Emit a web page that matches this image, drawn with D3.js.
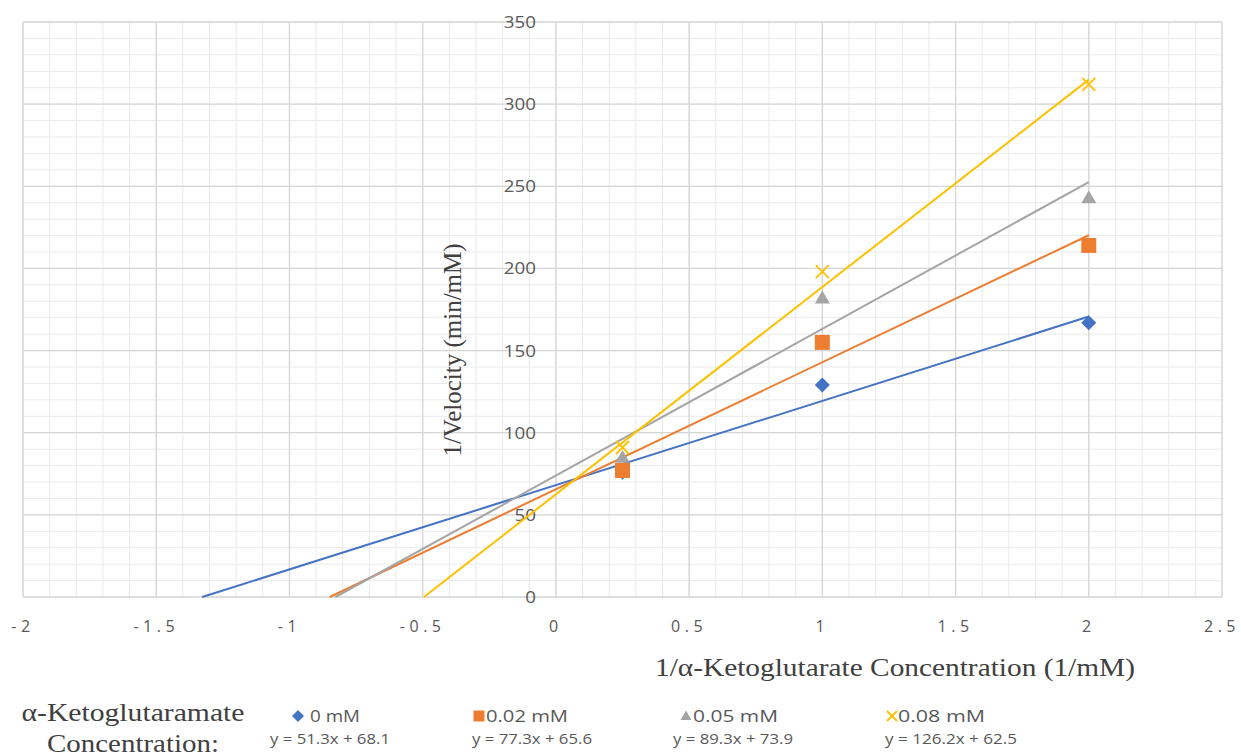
<!DOCTYPE html>
<html lang="en">
<head>
<meta charset="UTF-8">
<title>Lineweaver-Burk plot</title>
<script src="https://d3js.org/d3.v7.min.js"></script>
<style>
    body { margin: 0; background: #fff; }
    .tick-label { font-family: "Open Sans", sans-serif; font-size: 16px; fill: #595959; }
    .axis-title { font-family: "Liberation Serif", "Times New Roman", serif; font-size: 25px; fill: #404040; }
    .legend-text { font-family: "Open Sans", sans-serif; font-size: 17px; fill: #595959; }
    .eq-text { font-family: "Open Sans", sans-serif; font-size: 15px; fill: #595959; }
</style>
</head>
<body>
<svg id="svg" width="1241" height="756"></svg>
<script>
// data
const xValues = [0.25, 1, 2];
const seriesNames = ["0 mM", "0.02 mM", "0.05 mM", "0.08 mM"];
const vel0 = [76, 129, 167];
const vel002 = [77, 155, 214];
const vel005 = [85, 182, 243];
const vel008 = [91, 198, 312];
const slopes = [51.3, 77.3, 89.3, 126.2];
const intercepts = [68.1, 65.6, 73.9, 62.5];
const equations = ["y = 51.3x + 68.1", "y = 77.3x + 65.6", "y = 89.3x + 73.9", "y = 126.2x + 62.5"];
const xTicks = [-2, -1.5, -1, -0.5, 0, 0.5, 1, 1.5, 2, 2.5];
const yTicks = [0, 50, 100, 150, 200, 250, 300, 350];

const colors = ["#4472C4", "#ED7D31", "#A5A5A5", "#FFC000"];
const allSeries = [vel0, vel002, vel005, vel008];

const svg = d3.select("#svg");

const x = d3.scaleLinear().domain([-2, 2.5]).range([23, 1222]);
const y = d3.scaleLinear().domain([0, 350]).range([597, 22]);

// the picture is a bit wider than tall, so stretch texts sideways
function stretch(sel, k) {
    sel.each(function () {
        const w = this.getComputedTextLength();
        d3.select(this).attr("textLength", w * k).attr("lengthAdjust", "spacingAndGlyphs");
    });
}
function fitTo(sel, w) {
    sel.attr("textLength", w).attr("lengthAdjust", "spacingAndGlyphs");
}

// marker shapes (diamond = rotated square)
function drawMarker(g, i, s) {
    if (i === 0) {
        g.append("path").attr("d", d3.symbol().type(d3.symbolSquare).size(s * s / 2)())
            .attr("transform", "rotate(45)").attr("fill", colors[i]);
    } else if (i === 1) {
        g.append("path").attr("d", d3.symbol().type(d3.symbolSquare).size(s * s)())
            .attr("fill", colors[i]);
    } else if (i === 2) {
        g.append("path").attr("d", d3.symbol().type(d3.symbolTriangle).size(s * s * 0.43)())
            .attr("transform", `translate(0,${s * 0.08})`)
            .attr("fill", colors[i]);
    } else {
        const h = s / 2;
        g.append("path").attr("d", `M${-h},${-h}L${h},${h}M${-h},${h}L${h},${-h}`)
            .attr("stroke", colors[i]).attr("stroke-width", 1.8).attr("fill", "none");
    }
}

// minor grid
const grid = svg.append("g");
grid.selectAll(".vminor")
    .data(d3.range(-20, 26).map(i => i / 10))
    .enter().append("line")
    .attr("x1", d => x(d)).attr("x2", d => x(d))
    .attr("y1", y(0)).attr("y2", y(350))
    .attr("stroke", "#eaeaea").attr("stroke-width", 1);
grid.selectAll(".hminor")
    .data(d3.range(0, 36).map(i => i * 10))
    .enter().append("line")
    .attr("x1", x(-2)).attr("x2", x(2.5))
    .attr("y1", d => y(d)).attr("y2", d => y(d))
    .attr("stroke", "#eaeaea").attr("stroke-width", 1);

// major grid
grid.selectAll(".vmajor")
    .data(xTicks)
    .enter().append("line")
    .attr("x1", d => x(d)).attr("x2", d => x(d))
    .attr("y1", y(0)).attr("y2", y(350))
    .attr("stroke", "#d6d6d6").attr("stroke-width", 1.3);
grid.selectAll(".hmajor")
    .data(yTicks)
    .enter().append("line")
    .attr("x1", x(-2)).attr("x2", x(2.5))
    .attr("y1", d => y(d)).attr("y2", d => y(d))
    .attr("stroke", "#d6d6d6").attr("stroke-width", 1.3);

// tick labels
svg.selectAll(".ylab")
    .data(yTicks)
    .enter().append("text")
    .attr("class", "tick-label")
    .attr("x", x(0) - 20)
    .attr("y", d => y(d) + 6)
    .attr("text-anchor", "end")
    .text(d => d)
    .call(stretch, 1.17);

svg.selectAll(".xlab")
    .data(xTicks)
    .enter().append("text")
    .attr("class", "tick-label")
    .attr("x", d => x(d))
    .attr("y", 632)
    .attr("text-anchor", "middle")
    .style("letter-spacing", "4.5px")
    .text(d => d);

// trendlines from the fitted equations
const line = d3.line().x(d => x(d[0])).y(d => y(d[1]));
slopes.forEach((m, i) => {
    const b = intercepts[i];
    svg.append("path")
        .datum([[-b / m, 0], [2, m * 2 + b]])
        .attr("d", line)
        .attr("fill", "none")
        .attr("stroke", colors[i])
        .attr("stroke-width", 2);
});

// markers
allSeries.forEach((vals, i) => {
    const sizes = [15, 15, 15, 13];
    vals.forEach((v, j) => {
        const g = svg.append("g")
            .attr("transform", `translate(${x(xValues[j])},${y(v)})`);
        drawMarker(g, i, sizes[i]);
    });
});

// axis titles
svg.append("text")
    .attr("class", "axis-title")
    .attr("transform", `translate(461,350) rotate(-90)`)
    .attr("text-anchor", "middle")
    .text("1/Velocity (min/mM)");

svg.append("text")
    .attr("class", "axis-title")
    .attr("x", 895)
    .attr("y", 676)
    .attr("text-anchor", "middle")
    .text("1/α-Ketoglutarate Concentration (1/mM)")
    .call(fitTo, 480);

// legend
svg.append("text")
    .attr("class", "axis-title")
    .attr("x", 133).attr("y", 721)
    .attr("text-anchor", "middle")
    .text("α-Ketoglutaramate")
    .call(fitTo, 223);
svg.append("text")
    .attr("class", "axis-title")
    .attr("x", 133).attr("y", 752)
    .attr("text-anchor", "middle")
    .text("Concentration:")
    .call(fitTo, 172);

const legendX = [298, 479, 686, 892];
const nameX = [310, 486, 693, 898];
const nameW = [50, 82, 85, 87];
const eqX = [270, 472, 673, 885];
const eqW = [120, 120, 120, 132];
const legendSizes = [12, 11, 11, 10];
seriesNames.forEach((name, i) => {
    const g = svg.append("g").attr("transform", `translate(${legendX[i]},716)`);
    drawMarker(g, i, legendSizes[i]);
    svg.append("text")
        .attr("class", "legend-text")
        .attr("x", nameX[i])
        .attr("y", 722)
        .text(name)
        .call(fitTo, nameW[i]);
    svg.append("text")
        .attr("class", "eq-text")
        .attr("x", eqX[i])
        .attr("y", 744)
        .text(equations[i])
        .call(fitTo, eqW[i]);
});
</script>
</body>
</html>
